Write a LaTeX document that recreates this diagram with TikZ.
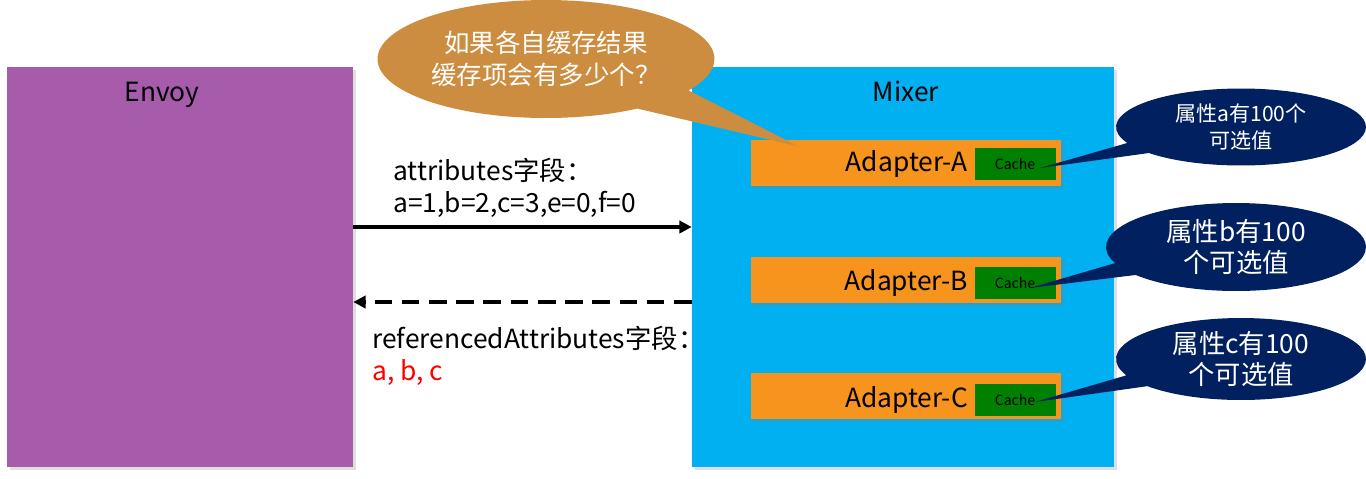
\documentclass[tikz,border=0pt]{standalone}
\usepackage{fontspec}
\setmainfont{Noto Sans CJK SC}
\usetikzlibrary{calc,positioning,arrows.meta,shapes.geometric,shapes.callouts,shadows}
\definecolor{envpurple}{RGB}{166,92,170}
\definecolor{mixblue}{RGB}{0,176,240}
\definecolor{adporange}{RGB}{247,148,29}
\definecolor{cachegreen}{RGB}{0,128,0}
\definecolor{notenavy}{RGB}{0,32,96}
\definecolor{askochre}{RGB}{205,141,64}

\begin{document}
\begin{tikzpicture}[x=0.02cm,y=-0.02cm,
  font=\fontsize{15pt}{18pt}\selectfont,
  box/.style={inner sep=0pt,drop shadow={shadow xshift=1.5pt,shadow yshift=-1.5pt,opacity=0.25}},
  adp/.style={box,fill=adporange,minimum width=6.22cm,minimum height=0.92cm},
  cache/.style={fill=cachegreen,minimum width=1.62cm,minimum height=0.64cm,inner sep=0pt,font=\fontsize{8pt}{9pt}\selectfont},
  note/.style={ellipse callout,fill=notenavy,text=white,align=center,inner sep=0pt,callout pointer arc=18},
  msg/.style={line width=2pt,-{Triangle[length=7pt,width=7pt]}},
  lbl/.style={anchor=north west,inner sep=0pt,align=left}]
\useasboundingbox (0,0) rectangle (1366,478);

% ================= ENVOY =================
\node[box,fill=envpurple,minimum width=6.92cm,minimum height=8cm] (envoy) at (180,267) {};
\node[anchor=base] (envoyt) at (162,101) {Envoy};

% ================= MIXER =================
\node[box,fill=mixblue,minimum width=8.44cm,minimum height=8cm] (mixer) at (903,267) {};
\node[anchor=base] (mixert) at (906,101) {Mixer};

\node[adp] (adpA) at (906,163) {};
\node[adp] (adpB) at (906,280) {};
\node[adp] (adpC) at (906,396) {};
\node[cache] (cacheA) at (1015,164) {Cache};
\node[cache] (cacheB) at (1015,283) {Cache};
\node[cache] (cacheC) at (1015,400) {Cache};
\node[anchor=east,inner sep=0pt] (adpAt) at ($(cacheA.west)+(-6,0)$) {Adapter-A};
\node[anchor=east,inner sep=0pt] (adpBt) at ($(cacheB.west)+(-6,0)$) {Adapter-B};
\node[anchor=east,inner sep=0pt] (adpCt) at ($(cacheC.west)+(-6,0)$) {Adapter-C};

% ================= MESSAGES =================
\coordinate (req) at (0,227);
\coordinate (rsp) at (0,302);
\draw[msg] (envoy.east |- req) -- (mixer.west |- req);
\draw[msg,dash pattern=on 10pt off 5.5pt] (mixer.west |- rsp) -- (envoy.east |- rsp);
\node[lbl] (attr) at (393,158) {attributes字段：\\a=1,b=2,c=3,e=0,f=0};
\node[lbl] (refd) at (372,326) {referencedAttributes字段：\\\textcolor{red}{a, b, c}};

% ================= CALLOUTS =================
\node[note,minimum width=5cm,minimum height=1.54cm,font=\fontsize{12pt}{15pt}\selectfont,
  callout absolute pointer={($(cacheA.center)+(25,4)$)}] (noteA) at (1241,127) {属性a有100个\\可选值};
\node[note,minimum width=5.2cm,minimum height=1.76cm,
  callout absolute pointer={($(cacheB.center)+(15,5)$)}] (noteB) at (1236,247) {属性b有100\\个可选值};
\node[note,minimum width=5cm,minimum height=1.64cm,
  callout absolute pointer={($(cacheC.center)+(20,2)$)}] (noteC) at (1241,359) {属性c有100\\个可选值};
\node[ellipse callout,fill=askochre,text=white,align=center,inner sep=0pt,
  minimum width=6.74cm,minimum height=2.36cm,callout pointer arc=25,
  font=\fontsize{14.5pt}{18pt}\selectfont,
  callout absolute pointer={($(adpA.north west)+(49,7)$)}] (ask) at (546,59) {如果各自缓存结果\\缓存项会有多少个？};
\end{tikzpicture}
\end{document}
